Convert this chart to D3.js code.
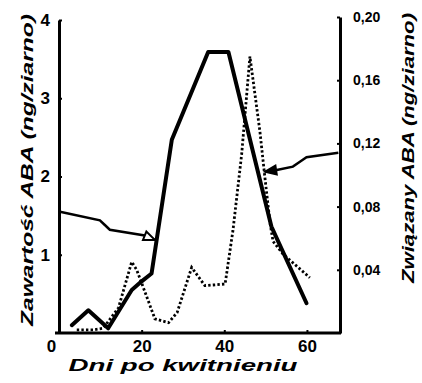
<!DOCTYPE html>
<html>
<head>
<meta charset="utf-8">
<script src="https://d3js.org/d3.v7.min.js"></script>
<style>
  body { margin: 0; background: #fff; }
  svg { display: block; }
  text { font-family: "Liberation Sans", Arial, sans-serif; font-weight: bold; fill: #000; }
  .axis path, .axis line { stroke: #000; }
  .axis path { stroke-width: 3; }
  .axis line { stroke-width: 2; }
</style>
</head>
<body>
<svg width="422" height="383"></svg>
<script>
// wolny ABA (lewa oś, ng/ziarno)
const freeDays = [3.1, 7.1, 11.9, 17.6, 20.0, 22.4, 27.3, 36.1, 41.0, 51.4, 59.9];
const freeVals = [0.10, 0.29, 0.06, 0.55, 0.66, 0.76, 2.47, 3.59, 3.59, 1.36, 0.38];

// związany ABA (prawa oś, ng/ziarno)
const boundDays = [4.3, 8.3, 10.7, 14.4, 17.6, 18.8, 20.8, 23.2, 26.5, 28.6, 32.1, 35.3,
                   40.2, 42.1, 44.2, 46.2, 48.6, 49.8, 51.1, 51.8, 54.2, 60.7];
const boundVals = [0.002, 0.002, 0.003, 0.016, 0.045, 0.040, 0.026, 0.009, 0.0065, 0.013, 0.0415, 0.030,
                   0.031, 0.065, 0.113, 0.175, 0.128, 0.099, 0.069, 0.058, 0.050, 0.035];

// strzałki opisowe
const leftArrow = [[0.24, 1.55], [9.9, 1.44], [11.1, 1.38], [12.3, 1.32], [20.4, 1.25], [23.2, 1.19]];
const rightArrow = [[67.6, 0.1141], [59.9, 0.1112], [58.3, 0.1084], [56.6, 0.1053], [52.7, 0.1032], [49.9, 0.1021]];

const xTicks = [0, 20, 40, 60];
const leftTicks = [1, 2, 3, 4];
const rightTicks = [0.04, 0.08, 0.12, 0.16, 0.20];

const svg = d3.select("svg");

const x = d3.scaleLinear().domain([0, 68]).range([59, 340]);
const yL = d3.scaleLinear().domain([0, 4]).range([333, 20]);
const yR = d3.scaleLinear().domain([0, 0.2]).range([333, 17]);

const pl = d3.formatLocale({decimal: ",", thousands: " ", grouping: [3], currency: ["", ""]});
const fmt = pl.format(".2f");

// osie
const gx = svg.append("g").attr("class", "axis").attr("transform", "translate(0,333)")
  .call(d3.axisBottom(x).tickValues(xTicks).tickSizeInner(-3).tickSizeOuter(0).tickPadding(7));
gx.select(".domain").attr("d", `M${x(0) - 4},0H${x.range()[1] + 1}`);
gx.selectAll("text").style("font-size", "17px").attr("dx", d => d === 0 ? -8 : 0);

const gl = svg.append("g").attr("class", "axis").attr("transform", `translate(${x(0)},0)`)
  .call(d3.axisLeft(yL).tickValues(leftTicks).tickFormat(d3.format("d"))
    .tickSizeInner(-3).tickSizeOuter(0).tickPadding(9));
gl.selectAll("text").style("font-size", "17px");

const gr = svg.append("g").attr("class", "axis").attr("transform", `translate(${x.range()[1]},0)`)
  .call(d3.axisRight(yR).tickValues(rightTicks).tickFormat(fmt).tickSizeInner(-3).tickSizeOuter(0).tickPadding(13));
gr.selectAll("text").style("font-size", "14px");

// linie danych
const lineL = d3.line().x(d => x(d[0])).y(d => yL(d[1]));
const lineR = d3.line().x(d => x(d[0])).y(d => yR(d[1]));

svg.append("path")
  .datum(boundDays.map((d, i) => [d, boundVals[i]]))
  .attr("d", lineR)
  .attr("fill", "none").attr("stroke", "#000").attr("stroke-width", 2.8)
  .attr("stroke-dasharray", "2.4,2.2");

svg.append("path")
  .datum(freeDays.map((d, i) => [d, freeVals[i]]))
  .attr("d", lineL)
  .attr("fill", "none").attr("stroke", "#000").attr("stroke-width", 4)
  .attr("stroke-linejoin", "round").attr("stroke-linecap", "round");

// strzałki
function arrow(pts, line, scY, filled) {
  svg.append("path").datum(pts).attr("d", line)
    .attr("fill", "none").attr("stroke", "#000").attr("stroke-width", 2.5);
  const a = pts[pts.length - 2], b = pts[pts.length - 1];
  const x1 = x(a[0]), y1 = scY(a[1]), x2 = x(b[0]), y2 = scY(b[1]);
  const ang = Math.atan2(y2 - y1, x2 - x1);
  const L = 11, W = 4.5;
  const bx = x2 - L * Math.cos(ang), by = y2 - L * Math.sin(ang);
  const p = [[x2, y2],
             [bx + W * Math.sin(ang), by - W * Math.cos(ang)],
             [bx - W * Math.sin(ang), by + W * Math.cos(ang)]];
  svg.append("path").attr("d", "M" + p.join("L") + "Z")
    .attr("fill", filled ? "#000" : "#fff").attr("stroke", "#000").attr("stroke-width", 2);
}
arrow(leftArrow, lineL, yL, false);
arrow(rightArrow, lineR, yR, true);

// tytuły osi
svg.append("text")
  .attr("transform", "translate(33,170) rotate(-90)")
  .attr("text-anchor", "middle")
  .style("font-size", "17px").style("font-style", "italic")
  .attr("textLength", 312).attr("lengthAdjust", "spacingAndGlyphs")
  .text("Zawartość ABA (ng/ziarno)");

svg.append("text")
  .attr("transform", "translate(414,148) rotate(-90)")
  .attr("text-anchor", "middle")
  .style("font-size", "16px").style("font-style", "italic")
  .attr("textLength", 270).attr("lengthAdjust", "spacingAndGlyphs")
  .text("Związany ABA (ng/ziarno)");

svg.append("text")
  .attr("x", 183).attr("y", 371)
  .attr("text-anchor", "middle")
  .style("font-size", "16px").style("font-style", "italic")
  .attr("textLength", 229).attr("lengthAdjust", "spacingAndGlyphs")
  .text("Dni po kwitnieniu");
</script>
</body>
</html>
